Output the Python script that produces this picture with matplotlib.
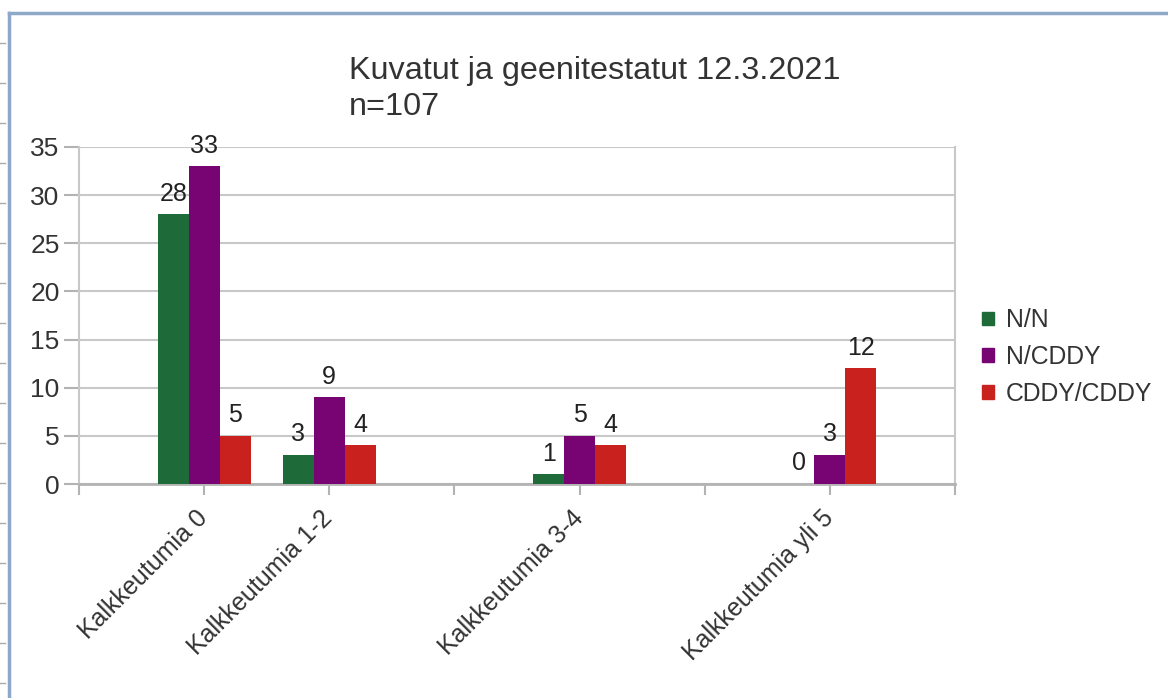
import matplotlib
matplotlib.use("Agg")
import matplotlib.pyplot as plt
from matplotlib.lines import Line2D
from matplotlib.patches import Patch

plt.rcParams['font.family'] = ['Liberation Sans', 'DejaVu Sans']

categories = ["Kalkkeutumia 0", "Kalkkeutumia 1-2", "Kalkkeutumia 3-4", "Kalkkeutumia yli 5"]
cat_positions = [1, 2, 4, 6]
series_names = ["N/N", "N/CDDY", "CDDY/CDDY"]
nn = [28, 3, 1, 0]
n_cddy = [33, 9, 5, 3]
cddy_cddy = [5, 4, 4, 12]
colors = ["#1e6a39", "#780373", "#c9211e"]
title_lines = ["Kuvatut ja geenitestatut 12.3.2021", "n=107"]

W, H = 1168, 698
fig = plt.figure(figsize=(W / 100, H / 100), dpi=100)
ax = fig.add_axes([79 / W, 1 - 484 / H, (955 - 79) / W, (484 - 147) / H])

bw = 0.247
series = [nn, n_cddy, cddy_cddy]
txtc = "#333333"
for i, (vals, c, name) in enumerate(zip(series, colors, series_names)):
    xs = [p + (i - 1) * bw for p in cat_positions]
    ax.bar(xs, vals, width=bw, color=c, label=name, zorder=3)
    for x, v in zip(xs, vals):
        ax.text(x, v + 0.9, str(v), ha="center", va="bottom", fontsize=18, color="#222222", zorder=4)

ax.set_xlim(0, 7)
ax.set_ylim(0, 35)
ax.set_yticks(range(0, 36, 5))
ax.set_xticks(range(0, 8))
ax.set_xticklabels([""] * 8)
for p, lab in zip(cat_positions, categories):
    ax.text(p - 0.07, -2.3, lab, rotation=45, ha="right", va="top", rotation_mode="anchor",
            fontsize=18, color=txtc, transform=ax.transData)

ax.grid(axis="y", color="#c8c8c8", linewidth=1.5, zorder=0)
ax.spines["top"].set_visible(False)
for s in ["left", "right"]:
    ax.spines[s].set_color("#c8c8c8")
    ax.spines[s].set_linewidth(1.5)
ax.spines["bottom"].set_color("#b3b3b3")
ax.spines["bottom"].set_linewidth(2)
ax.tick_params(axis="y", length=11, width=1.5, color="#b3b3b3", labelsize=19, labelcolor=txtc, pad=3)
ax.tick_params(axis="x", length=8, width=1.5, color="#b3b3b3", direction="out")
ax.set_axisbelow(True)

fig.text(349 / W, 1 - 56 / H, title_lines[0] + "\n" + title_lines[1], ha="left", va="top",
         fontsize=23.3, color=txtc, linespacing=1.24)

handles = [Patch(facecolor=c, edgecolor=c) for c in colors]
fig.legend(handles, series_names, loc="center left", bbox_to_anchor=(960 / W, 1 - 357 / H),
           frameon=False, fontsize=17.8, handlelength=0.47, handleheight=0.47, handletextpad=0.5,
           labelspacing=0.52, labelcolor=txtc)

# screenshot frame
fig.add_artist(Line2D([9 / W, 1], [1 - 13 / H, 1 - 13 / H], color="#8ea9c8", linewidth=2.5))
fig.add_artist(Line2D([9 / W, 9 / W], [0, 1 - 13 / H], color="#8ea9c8", linewidth=2.5))
for yy in range(43, 698, 40):
    fig.add_artist(Line2D([0, 5 / W], [1 - yy / H, 1 - yy / H], color="#aaaaaa", linewidth=1))

fig.savefig("out.png", dpi=100)
